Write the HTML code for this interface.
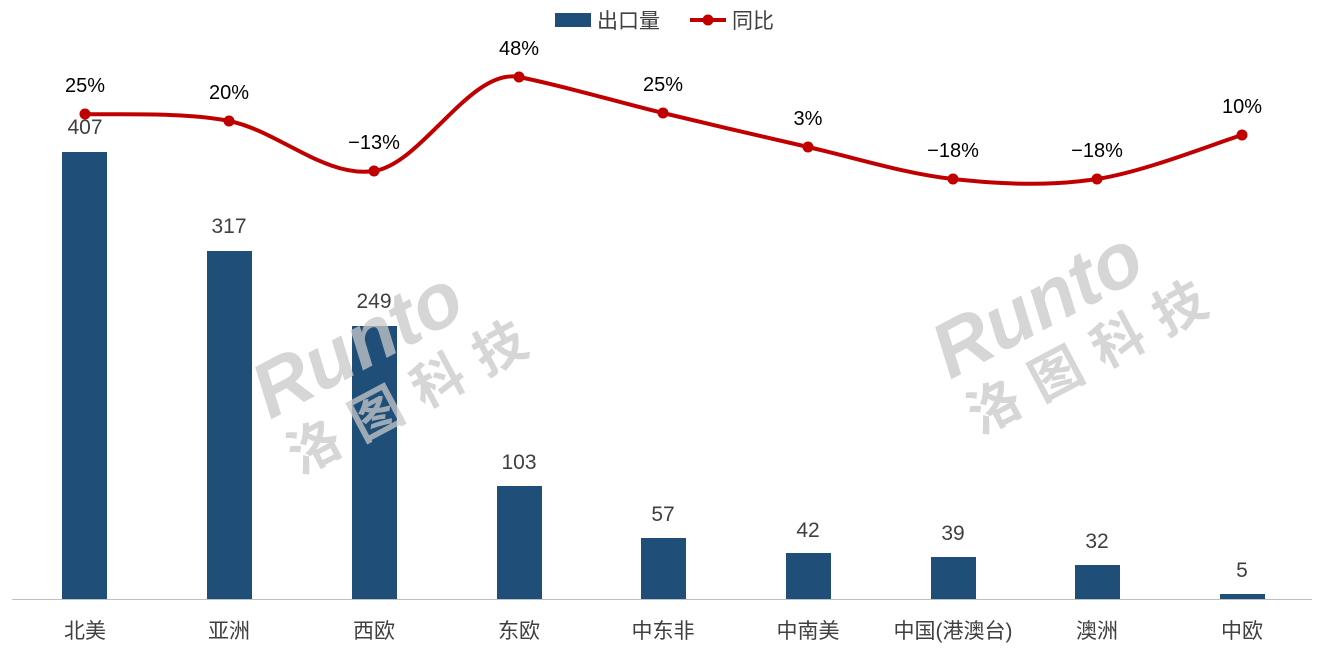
<!DOCTYPE html>
<html><head><meta charset="utf-8"><style>
html,body{margin:0;padding:0;background:#fff;}
svg{display:block;font-family:"Liberation Sans","Noto Sans CJK SC",sans-serif;}
</style></head><body>
<svg width="1326" height="655" viewBox="0 0 1326 655" xmlns="http://www.w3.org/2000/svg">
<!-- axis -->
<line x1="12" y1="599.5" x2="1312" y2="599.5" stroke="#bfbfbf" stroke-width="1"/>
<!-- bars -->
<g fill="#1f4e79">
<rect x="62" y="152" width="45" height="447"/>
<rect x="207" y="251" width="45" height="348"/>
<rect x="352" y="326" width="45" height="273"/>
<rect x="497" y="486" width="45" height="113"/>
<rect x="641" y="538" width="45" height="61"/>
<rect x="786" y="553" width="45" height="46"/>
<rect x="931" y="557" width="45" height="42"/>
<rect x="1075" y="565" width="45" height="34"/>
<rect x="1220" y="594" width="45" height="5"/>
</g>
<!-- watermarks -->
<g fill="#c8c8c8" font-weight="bold" opacity="0.75">
<text x="270" y="420" font-size="78" transform="rotate(-28 270 420)" font-style="italic">Runto</text>
<text x="300" y="475" font-size="52" transform="rotate(-28 300 475)" letter-spacing="18">洛图科技</text>
<text x="950" y="380" font-size="78" transform="rotate(-28 950 380)" font-style="italic">Runto</text>
<text x="980" y="435" font-size="52" transform="rotate(-28 980 435)" letter-spacing="18">洛图科技</text>
</g>
<!-- bar labels -->
<g font-size="21" fill="#404040" text-anchor="middle">
<text x="85" y="134">407</text>
<text x="229" y="233">317</text>
<text x="374" y="308">249</text>
<text x="519" y="469">103</text>
<text x="663" y="521">57</text>
<text x="808" y="537">42</text>
<text x="953" y="540">39</text>
<text x="1097" y="548">32</text>
<text x="1242" y="577">5</text>
</g>
<!-- line -->
<path d="M85,114 C109,115.2 180.8,111.5 229,121 C277.2,130.5 325.7,178.3 374,171 C422.3,163.7 470.8,67.3 519,77 C567.2,86.7 614.8,101.3 663,113 C711.2,124.7 759.7,136 808,147 C856.3,158 904.8,173.7 953,179 C1001.2,184.3 1048.8,186.3 1097,179 C1145.2,171.7 1217.8,142.3 1242,135" fill="none" stroke="#c00000" stroke-width="4"/>
<g fill="#c00000">
<circle cx="85" cy="114" r="5.5"/><circle cx="229" cy="121" r="5.5"/><circle cx="374" cy="171" r="5.5"/>
<circle cx="519" cy="77" r="5.5"/><circle cx="663" cy="113" r="5.5"/><circle cx="808" cy="147" r="5.5"/>
<circle cx="953" cy="179" r="5.5"/><circle cx="1097" cy="179" r="5.5"/><circle cx="1242" cy="135" r="5.5"/>
</g>
<g font-size="20" fill="#000" text-anchor="middle">
<text x="85" y="92">25%</text>
<text x="229" y="99">20%</text>
<text x="374" y="149">−13%</text>
<text x="519" y="55">48%</text>
<text x="663" y="91">25%</text>
<text x="808" y="125">3%</text>
<text x="953" y="157">−18%</text>
<text x="1097" y="157">−18%</text>
<text x="1242" y="113">10%</text>
</g>
<!-- categories -->
<g font-size="21" fill="#404040" text-anchor="middle">
<text x="85" y="638">北美</text>
<text x="229" y="638">亚洲</text>
<text x="374" y="638">西欧</text>
<text x="519" y="638">东欧</text>
<text x="663" y="638">中东非</text>
<text x="808" y="638">中南美</text>
<text x="953" y="638">中国(港澳台)</text>
<text x="1097" y="638">澳洲</text>
<text x="1242" y="638">中欧</text>
</g>
<!-- legend -->
<rect x="555" y="13" width="36" height="14" fill="#1f4e79"/>
<text x="597" y="28" font-size="21" fill="#404040">出口量</text>
<line x1="690" y1="20" x2="726" y2="20" stroke="#c00000" stroke-width="4"/>
<circle cx="708" cy="20" r="5.5" fill="#c00000"/>
<text x="732" y="28" font-size="21" fill="#404040">同比</text>
</svg>
</body></html>
